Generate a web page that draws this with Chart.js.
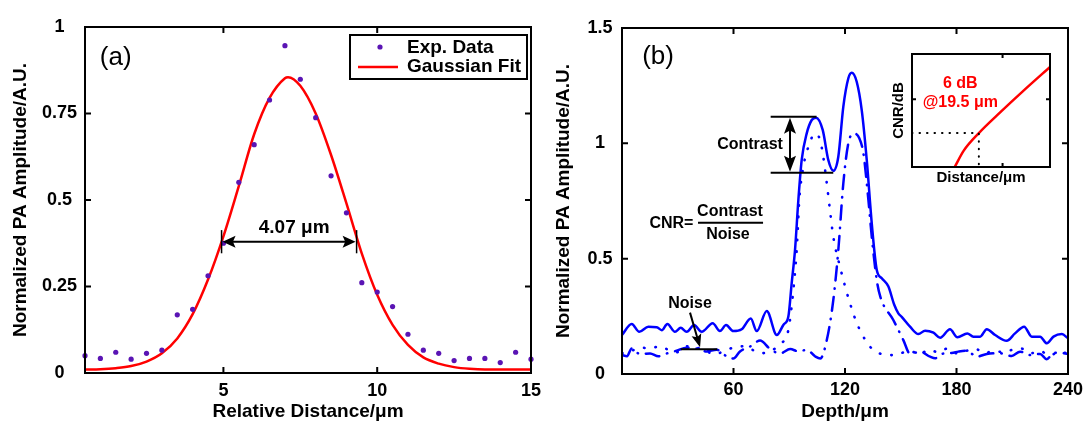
<!DOCTYPE html>
<html>
<head>
<meta charset="utf-8">
<title>PA lateral resolution and CNR</title>
<script src="https://cdn.jsdelivr.net/npm/chart.js@4.4.1/dist/chart.umd.min.js"></script>
<style>
  html, body { margin: 0; padding: 0; background: #fff; }
  #wrap  { position: relative; width: 1084px; height: 425px; overflow: hidden; }
  canvas { position: absolute; }
  #chartA { left: 0;     top: 0; }
  #chartB { left: 545px; top: 0; }
  #inset  { left: 885px; top: 45px; }
</style>
</head>
<body>
<div id="wrap">
  <canvas id="chartA" width="545" height="425"></canvas>
  <canvas id="chartB" width="539" height="425"></canvas>
  <canvas id="inset"  width="175" height="145"></canvas>
</div>
<script>
'use strict';

// ── Panel (a): lateral profile ─────────────────────────────
const expX = [0.5, 1, 1.5, 2, 2.5, 3, 3.5, 4, 4.5, 5, 5.5, 6, 6.5, 7, 7.5,
              8, 8.5, 9, 9.5, 10, 10.5, 11, 11.5, 12, 12.5, 13, 13.5, 14, 14.5, 15];
const expY = [0.05, 0.042, 0.06, 0.04, 0.057, 0.066, 0.168, 0.184, 0.281, 0.375,
              0.551, 0.66, 0.789, 0.946, 0.849, 0.738, 0.57, 0.463, 0.261, 0.234,
              0.192, 0.112, 0.066, 0.057, 0.036, 0.042, 0.042, 0.03, 0.06, 0.04];
const fitX = [0.5, 1, 1.5, 2, 2.5, 3, 3.5, 4, 4.5, 5, 5.5, 6, 6.5, 7, 7.1, 7.5,
              8, 8.5, 9, 9.5, 10, 10.5, 11, 11.5, 12, 12.5, 13, 13.5, 14, 14.5, 15];
const fitY = [0.01, 0.011, 0.014, 0.02, 0.033, 0.057, 0.1, 0.17, 0.27, 0.395, 0.54,
              0.69, 0.795, 0.852, 0.855, 0.83, 0.75, 0.63, 0.49, 0.345, 0.226, 0.139,
              0.081, 0.045, 0.027, 0.017, 0.012, 0.01, 0.01, 0.01, 0.01];
const aTicksX = [5, 10, 15];
const aTicksY = [0, 0.25, 0.5, 0.75, 1];

// ── Panel (b): depth profiles ──────────────────────────────
const depthSolid = [0, 5.2, 9.3, 14.2, 18.7, 21.4, 24.4, 28.5, 31.6, 34.8, 38.8, 42.9,
                    48.8, 52.7, 56, 59.9, 64.4, 69.3, 72.5, 77.9, 83.3, 87, 89.5, 91.3,
                    93.1, 94.9, 96.7, 99.4, 102.1, 104.4, 108, 111, 113.7, 116.4, 119.1,
                    121.8, 123.6, 126.3, 129, 131.7, 134.4, 137.1, 139.8, 143.3, 146.5,
                    148.7, 150.5, 155, 159.5, 163.1, 167.6, 171.2, 176.5, 180.5, 185.8,
                    189.1, 192.7, 196.3, 200.8, 207, 211.5, 216.4, 220.5, 225, 228.6,
                    232.2, 236.7, 240];
const ampSolid   = [0.169, 0.217, 0.183, 0.205, 0.203, 0.19, 0.217, 0.183, 0.2, 0.183,
                    0.212, 0.183, 0.22, 0.186, 0.212, 0.186, 0.194, 0.241, 0.186, 0.273,
                    0.169, 0.215, 0.248, 0.393, 0.537, 0.754, 0.928, 1.043, 1.101, 1.111,
                    1.058, 0.928, 0.881, 0.942, 1.159, 1.282, 1.306, 1.267, 1.144, 0.928,
                    0.653, 0.451, 0.415, 0.38, 0.3, 0.263, 0.248, 0.205, 0.173, 0.188,
                    0.179, 0.157, 0.194, 0.159, 0.176, 0.162, 0.162, 0.194, 0.169, 0.144,
                    0.176, 0.205, 0.162, 0.162, 0.133, 0.162, 0.173, 0.155];
const depthDot   = [0, 5, 10, 15, 20, 25, 30, 35, 40, 45, 50, 55, 60, 65, 70, 75, 80, 85,
                    89.5, 92.2, 94, 95.4, 97.6, 100.3, 103.9, 106.6, 108.3, 110.2, 111.9,
                    113.7, 117.3, 122.7, 127.2, 135.3, 146,
                    150, 155, 160, 165, 170, 175, 180, 185, 190, 195, 200, 205, 210, 215,
                    220, 225, 230, 235, 240];
const ampDot     = [0.09, 0.1, 0.115, 0.11, 0.12, 0.105, 0.095, 0.12, 0.115, 0.1, 0.085,
                    0.1, 0.115, 0.12, 0.105, 0.09, 0.1, 0.13,
                    0.19, 0.364, 0.537, 0.754, 0.9, 0.985, 1.043, 1.014, 0.942, 0.827,
                    0.711, 0.595, 0.465, 0.306, 0.205, 0.104, 0.082,
                    0.09, 0.1, 0.085, 0.105, 0.095, 0.11, 0.09, 0.1, 0.11, 0.09, 0.1,
                    0.095, 0.105, 0.11, 0.09, 0.1, 0.08, 0.095, 0.09];
const depthDash  = [0, 2.7, 5.2, 9.7, 15.1, 19.6, 24, 29.4, 34.8, 40.2, 45.5, 50.9, 56.3,
                    59.9, 63.5, 68.9, 74.3, 79.7, 85.1, 90.5, 95, 99.5, 104, 106.7,
                    110.2, 113.7, 116.4, 119.1, 121.8, 124.9, 127.7, 129.9, 132.6, 134.4,
                    137.1, 139, 146, 151.4, 155,
                    160.4, 165.8, 168.5, 172.1, 177.4, 181, 185.5, 190.9, 196.3, 203.4,
                    209.7, 214.2, 219.6, 225, 228.6, 232.2, 235.7, 240];
const ampDash    = [0.082, 0.077, 0.111, 0.086, 0.089, 0.077, 0.089, 0.101, 0.114, 0.11,
                    0.098, 0.105, 0.077, 0.067, 0.098, 0.119, 0.145, 0.108, 0.089, 0.108,
                    0.098, 0.105, 0.076, 0.067,
                    0.147, 0.32, 0.537, 0.827, 1.0, 1.043, 1.022, 0.957, 0.754, 0.595,
                    0.407, 0.335, 0.234, 0.147, 0.087,
                    0.097, 0.075, 0.068, 0.087, 0.091, 0.097, 0.101, 0.075, 0.087, 0.09,
                    0.078, 0.097, 0.082, 0.087, 0.064, 0.092, 0.092, 0.087];
const bTicksX = [60, 120, 180, 240];
const bTicksY = [0, 0.5, 1, 1.5];

// ── Inset: CNR vs distance ─────────────────────────────────
const insetDist   = [13.9, 16, 19.5, 24.5, 30, 36];
const insetCnr    = [0, 2.9, 6, 9.7, 13.6, 17.7];
const insetGuideX = [4, 19.5, 19.5];
const insetGuideY = [6, 6, 0];
const insetTicksX = [25];
const insetTicksY = [12];

// ── Styling ────────────────────────────────────────────────
const FONT   = "'Liberation Sans', Arial, sans-serif";
const BLUE   = '#0000ff';
const RED    = '#ff0000';
const PURPLE = '#5a14b4';

Chart.defaults.color = '#000';
Chart.defaults.font.family = FONT;

function pts(xs, ys) {
  return xs.map((x, i) => ({ x, y: ys[i] }));
}

function axis(c) {
  return {
    type: 'linear',
    min: c.min,
    max: c.max,
    afterBuildTicks: s => { s.ticks = c.ticks.map(v => ({ value: v })); },
    afterFit: s => { if (c.horizontal) s.height = c.size; else s.width = c.size; },
    grid:   { display: false },
    border: { display: false },
    ticks: {
      display:     c.labels !== false,
      color:       '#000',
      font:        { family: FONT, size: 18, weight: 'bold' },
      padding:     c.tickPad || 0,
      crossAlign:  c.horizontal ? 'near' : 'center',
      maxRotation: 0,
      autoSkip:    false,
      callback:    v => String(v)
    },
    title: {
      display: true,
      text:    c.title,
      color:   '#000',
      font:    { family: FONT, size: c.titleSize || 19, weight: 'bold' },
      padding: c.titlePad
    }
  };
}

// black box round the plot area, MATLAB style inner ticks
function framePlugin(len, width) {
  return {
    id: 'frame',
    afterDatasetsDraw(chart) {
      const { ctx, chartArea: a, scales: { x, y } } = chart;
      ctx.save();
      ctx.strokeStyle = '#000';
      ctx.lineWidth = width;
      ctx.beginPath();
      x.ticks.forEach(t => {
        const px = x.getPixelForValue(t.value);
        ctx.moveTo(px, a.bottom); ctx.lineTo(px, a.bottom - len);
        ctx.moveTo(px, a.top);    ctx.lineTo(px, a.top + len);
      });
      y.ticks.forEach(t => {
        const py = y.getPixelForValue(t.value);
        ctx.moveTo(a.left, py);  ctx.lineTo(a.left + len, py);
        ctx.moveTo(a.right, py); ctx.lineTo(a.right - len, py);
      });
      ctx.stroke();
      ctx.strokeRect(a.left, a.top, a.right - a.left, a.bottom - a.top);
      ctx.restore();
    }
  };
}

function text(ctx, str, x, y, size, color, weight, align) {
  ctx.font = `${weight || 'bold'} ${size}px ${FONT}`;
  ctx.fillStyle = color || '#000';
  ctx.textAlign = align || 'center';
  ctx.textBaseline = 'middle';
  ctx.fillText(str, x, y);
}

function line(ctx, x1, y1, x2, y2, w) {
  ctx.lineWidth = w || 2;
  ctx.beginPath();
  ctx.moveTo(x1, y1);
  ctx.lineTo(x2, y2);
  ctx.stroke();
}

function arrowHead(ctx, x, y, ang, len, half) {
  const c = Math.cos(ang), s = Math.sin(ang);
  ctx.beginPath();
  ctx.moveTo(x, y);
  ctx.lineTo(x - len * c + half * s, y - len * s - half * c);
  ctx.lineTo(x - len * c * 0.8, y - len * s * 0.8);
  ctx.lineTo(x - len * c - half * s, y - len * s + half * c);
  ctx.closePath();
  ctx.fill();
}

// ── Panel (a) ──────────────────────────────────────────────
const notesA = {
  id: 'notesA',
  afterDraw(chart) {
    const { ctx, chartArea: a, scales: { x, y } } = chart;
    const X = v => x.getPixelForValue(v), Y = v => y.getPixelForValue(v);
    ctx.save();
    ctx.strokeStyle = '#000';
    ctx.fillStyle = '#000';

    // FWHM marker
    const x1 = X(4.94), x2 = X(9.33), ym = Y(0.379);
    line(ctx, x1, Y(0.346), x1, Y(0.413), 1.5);
    line(ctx, x2, Y(0.346), x2, Y(0.413), 1.5);
    line(ctx, x1 + 6, ym, x2 - 6, ym, 2);
    arrowHead(ctx, x1 + 1, ym, Math.PI, 13, 6);
    arrowHead(ctx, x2 - 1, ym, 0, 13, 6);
    text(ctx, '4.07 \u03bcm', X(7.3), Y(0.42), 19);

    text(ctx, '(a)', X(1.5), Y(0.912), 26, '#000', 'normal');

    // legend box
    const bw = 177, bh = 44, bx = a.right - 4 - bw, by = a.top + 8;
    ctx.fillStyle = '#fff';
    ctx.fillRect(bx, by, bw, bh);
    ctx.lineWidth = 2;
    ctx.strokeRect(bx, by, bw, bh);
    const ds = chart.data.datasets;
    ctx.fillStyle = ds[0].backgroundColor;
    ctx.beginPath();
    ctx.arc(bx + 30, by + 12, 2.6, 0, Math.PI * 2);
    ctx.fill();
    ctx.strokeStyle = ds[1].borderColor;
    line(ctx, bx + 8, by + 32, bx + 48, by + 32, 2.5);
    text(ctx, ds[0].label, bx + 57, by + 13, 19, '#000', 'bold', 'left');
    text(ctx, ds[1].label, bx + 57, by + 32, 19, '#000', 'bold', 'left');
    ctx.restore();
  }
};

new Chart(document.getElementById('chartA'), {
  type: 'scatter',
  data: {
    datasets: [
      {
        label: 'Exp. Data',
        data: pts(expX, expY),
        backgroundColor: PURPLE,
        borderColor: PURPLE,
        pointRadius: 2.6,
        pointBorderWidth: 0,
        clip: false,
        order: 0
      },
      {
        label: 'Gaussian Fit',
        type: 'line',
        data: pts(fitX, fitY),
        borderColor: RED,
        borderWidth: 2.5,
        pointRadius: 0,
        cubicInterpolationMode: 'monotone',
        order: 1
      }
    ]
  },
  options: {
    responsive: false,
    animation: false,
    devicePixelRatio: 1,
    events: [],
    layout: { padding: { top: 27, right: 14, left: 0, bottom: 0 } },
    plugins: { legend: { display: false }, tooltip: { enabled: false } },
    scales: {
      x: axis({ min: 0.5, max: 15, ticks: aTicksX, horizontal: true, size: 52,
                tickPad: -1, title: 'Relative Distance/\u03bcm', titlePad: { top: 0, bottom: 2 } }),
      y: axis({ min: 0, max: 1, ticks: aTicksY, size: 85, tickPad: 0,
                title: 'Normalized PA Amplitude/A.U.', titlePad: { top: 9.5, bottom: 0 } })
    }
  },
  plugins: [framePlugin(6, 2), notesA]
});

// ── Panel (b) ──────────────────────────────────────────────
const notesB = {
  id: 'notesB',
  afterDraw(chart) {
    const { ctx, scales: { x, y } } = chart;
    const X = v => x.getPixelForValue(v), Y = v => y.getPixelForValue(v);
    ctx.save();
    ctx.strokeStyle = '#000';
    ctx.fillStyle = '#000';

    text(ctx, '(b)', X(19.4), Y(1.375), 26, '#000', 'normal');

    // contrast marker
    line(ctx, X(80), Y(1.115), X(104.7), Y(1.115), 2);
    line(ctx, X(80), Y(0.873), X(113.7), Y(0.873), 2);
    const xa = X(90.4);
    line(ctx, xa, Y(1.115) + 10, xa, Y(0.873) - 10, 2);
    arrowHead(ctx, xa, Y(1.115) + 1, -Math.PI / 2, 16, 6);
    arrowHead(ctx, xa, Y(0.873) - 1, Math.PI / 2, 16, 6);
    text(ctx, 'Contrast', X(68.9), Y(0.993), 16);

    // CNR formula
    text(ctx, 'CNR=', X(26.6), Y(0.653), 16);
    text(ctx, 'Contrast', X(58.1), Y(0.703), 16);
    line(ctx, X(40.9), Y(0.656), X(75.9), Y(0.656), 2);
    text(ctx, 'Noise', X(57), Y(0.606), 16);

    // noise marker
    line(ctx, X(31.6), Y(0.107), X(51.3), Y(0.107), 2);
    const sx = X(36.6), sy = Y(0.266), tx = X(42), ty = Y(0.116);
    const ang = Math.atan2(ty - sy, tx - sx);
    line(ctx, sx, sy, tx - 8 * Math.cos(ang), ty - 8 * Math.sin(ang), 2);
    arrowHead(ctx, tx, ty, ang, 13, 5);
    text(ctx, 'Noise', X(36.6), Y(0.307), 16);
    ctx.restore();
  }
};

new Chart(document.getElementById('chartB'), {
  type: 'line',
  data: {
    datasets: [
      {
        data: pts(depthSolid, ampSolid),
        borderColor: BLUE,
        borderWidth: 2.5,
        pointRadius: 0,
        cubicInterpolationMode: 'monotone'
      },
      {
        data: pts(depthDot, ampDot),
        borderColor: BLUE,
        borderWidth: 2.6,
        borderDash: [0.5, 11],
        borderCapStyle: 'round',
        pointRadius: 0,
        cubicInterpolationMode: 'monotone'
      },
      {
        data: pts(depthDash, ampDash),
        borderColor: BLUE,
        borderWidth: 2.5,
        borderDash: [14, 8, 0.5, 8],
        borderCapStyle: 'round',
        pointRadius: 0,
        cubicInterpolationMode: 'monotone'
      }
    ]
  },
  options: {
    responsive: false,
    animation: false,
    devicePixelRatio: 1,
    events: [],
    layout: { padding: { top: 28, right: 16, left: 0, bottom: 0 } },
    plugins: { legend: { display: false }, tooltip: { enabled: false } },
    scales: {
      x: axis({ min: 0, max: 240, ticks: bTicksX, horizontal: true, size: 51,
                tickPad: -2.5, title: 'Depth/\u03bcm', titlePad: { top: 0, bottom: 2 } }),
      y: axis({ min: 0, max: 1.5, ticks: bTicksY, size: 77, tickPad: 1.5,
                title: 'Normalized PA Amplitude/A.U.', titlePad: { top: 7.6, bottom: 0 } })
    }
  },
  plugins: [framePlugin(6, 2), notesB]
});

// ── Inset ──────────────────────────────────────────────────
const notesInset = {
  id: 'notesInset',
  afterDraw(chart) {
    const { ctx, scales: { x, y } } = chart;
    ctx.save();
    text(ctx, '6 dB', x.getPixelForValue(15.2), y.getPixelForValue(14.8), 16, RED);
    text(ctx, '@19.5 \u03bcm', x.getPixelForValue(15.2), y.getPixelForValue(11.4), 16, RED);
    ctx.restore();
  }
};

new Chart(document.getElementById('inset'), {
  type: 'line',
  data: {
    datasets: [
      {
        data: pts(insetGuideX, insetGuideY),
        borderColor: '#000',
        borderWidth: 2,
        borderDash: [0.5, 7],
        borderCapStyle: 'round',
        pointRadius: 0,
        tension: 0
      },
      {
        data: pts(insetDist, insetCnr),
        borderColor: RED,
        borderWidth: 2.5,
        pointRadius: 0,
        cubicInterpolationMode: 'monotone'
      }
    ]
  },
  options: {
    responsive: false,
    animation: false,
    devicePixelRatio: 1,
    events: [],
    layout: { padding: { top: 9, right: 10, left: 0, bottom: 0 } },
    plugins: { legend: { display: false }, tooltip: { enabled: false } },
    scales: {
      x: axis({ min: 4, max: 36, ticks: insetTicksX, horizontal: true, size: 23, labels: false,
                title: 'Distance/\u03bcm', titleSize: 15, titlePad: { top: 0, bottom: 2.7 } }),
      y: axis({ min: 0, max: 20, ticks: insetTicksY, size: 27, labels: false,
                title: 'CNR/dB', titleSize: 15, titlePad: { top: 5.3, bottom: 0 } })
    }
  },
  plugins: [framePlugin(4, 2), notesInset]
});
</script>
</body>
</html>
